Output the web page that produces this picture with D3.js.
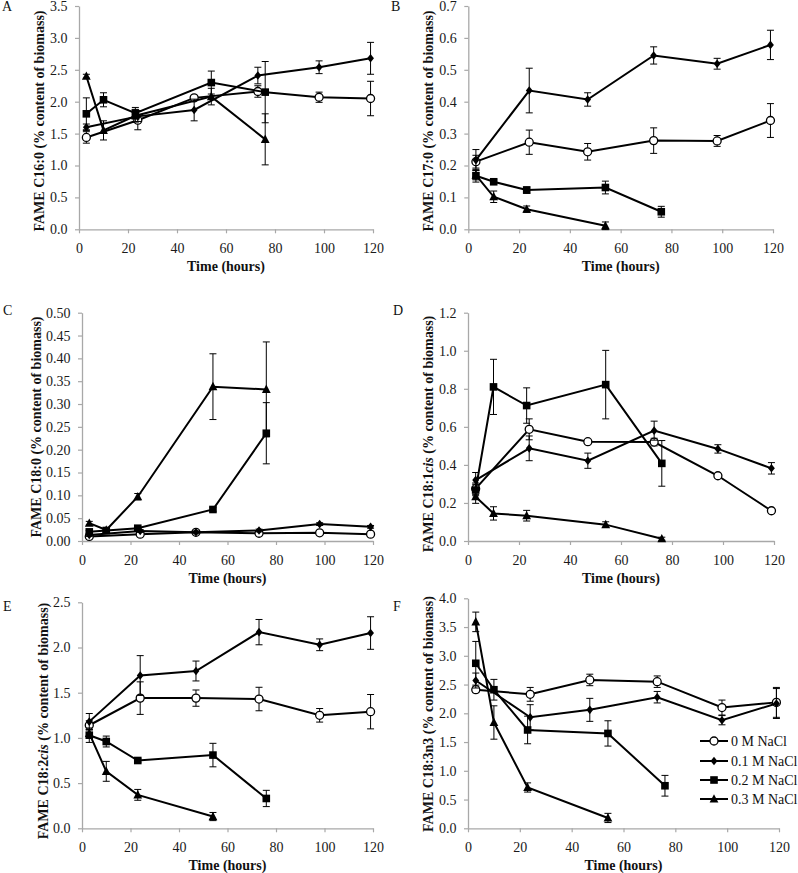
<!DOCTYPE html>
<html><head><meta charset="utf-8">
<script src="https://cdn.jsdelivr.net/npm/d3@7/dist/d3.min.js"></script>
<style>
body{margin:0;background:#fff;}
svg{display:block;}
svg text{font-family:"Liberation Serif","Times New Roman",serif !important;}
</style></head><body>
<svg id="chart" width="798" height="873"></svg>
<script>
// ---------- DATA ----------
const seriesNames = ["0 M NaCl", "0.1 M NaCl", "0.2 M NaCl", "0.3 M NaCl"];
const timesLong = [3, 24, 47, 73, 98, 119];   // 0 M and 0.1 M NaCl
const timesShort = [3, 10, 23, 54, 76];       // 0.2 M and 0.3 M NaCl
const timesShorter = [3, 10, 23, 54];         // 0.3 M NaCl in B, E, F
const xTicks = [0, 20, 40, 60, 80, 100, 120];

// A: C16:0
const pA0 = [1.44, 1.71, 2.06, 2.16, 2.07, 2.05], pA0e = [0.09, 0.15, 0.03, 0.09, 0.08, 0.27];
const pA1 = [1.60, 1.77, 1.87, 2.41, 2.54, 2.68], pA1e = [0.05, 0.08, 0.17, 0.13, 0.10, 0.25];
const pA2 = [1.81, 2.03, 1.82, 2.30, 2.15], pA2e = [0.25, 0.11, 0.09, 0.18, 0.48];
const pA3 = [2.40, 1.55, 1.78, 2.08, 1.41], pA3e = [0.03, 0.15, 0.10, 0.13, 0.40];
// B: C17:0
const pB0 = [0.212, 0.273, 0.243, 0.278, 0.277, 0.341], pB0e = [0.02, 0.038, 0.026, 0.04, 0.017, 0.053];
const pB1 = [0.217, 0.435, 0.407, 0.545, 0.519, 0.578], pB1e = [0.033, 0.07, 0.021, 0.027, 0.017, 0.046];
const pB2 = [0.168, 0.149, 0.123, 0.131, 0.055], pB2e = [0.02, 0.006, 0.01, 0.02, 0.017];
const pB3 = [0.170, 0.102, 0.063, 0.011], pB3e = [0.015, 0.018, 0.01, 0.012];
// C: C18:0
const pC0 = [0.010, 0.015, 0.019, 0.017, 0.018, 0.015], pC0e = [0.002, 0.002, 0.002, 0.002, 0.002, 0.002];
const pC1 = [0.013, 0.022, 0.019, 0.023, 0.037, 0.031], pC1e = [0.003, 0.003, 0.003, 0.003, 0.003, 0.003];
const pC2 = [0.020, 0.023, 0.028, 0.069, 0.236], pC2e = [0.003, 0.003, 0.004, 0.004, 0.067];
const pC3 = [0.039, 0.024, 0.097, 0.338, 0.332], pC3e = [0.004, 0.003, 0.007, 0.072, 0.104];
// D: C18:1cis
const pD0 = [0.275, 0.587, 0.522, 0.520, 0.343, 0.159], pD0e = [0.03, 0.055, 0.005, 0.02, 0.005, 0.005];
const pD1 = [0.32, 0.487, 0.422, 0.58, 0.484, 0.382], pD1e = [0.04, 0.065, 0.04, 0.05, 0.022, 0.03];
const pD2 = [0.268, 0.81, 0.712, 0.822, 0.408], pD2e = [0.03, 0.145, 0.093, 0.18, 0.12];
const pD3 = [0.233, 0.145, 0.133, 0.086, 0.012], pD3e = [0.035, 0.035, 0.028, 0.015, 0.008];
// E: C18:2cis
const pE0 = [1.14, 1.44, 1.44, 1.43, 1.25, 1.29], pE0e = [0.05, 0.18, 0.09, 0.13, 0.075, 0.19];
const pE1 = [1.18, 1.69, 1.74, 2.17, 2.03, 2.16], pE1e = [0.09, 0.22, 0.11, 0.14, 0.065, 0.18];
const pE2 = [1.03, 0.96, 0.75, 0.81, 0.33], pE2e = [0.08, 0.06, 0.02, 0.13, 0.09];
const pE3 = [1.05, 0.63, 0.37, 0.13], pE3e = [0.04, 0.11, 0.06, 0.045];
// F: C18:3n3
const pF0 = [2.41, 2.33, 2.58, 2.55, 2.10, 2.19], pF0e = [0.05, 0.12, 0.10, 0.10, 0.13, 0.26];
const pF1 = [2.57, 1.93, 2.06, 2.28, 1.88, 2.17], pF1e = [0.13, 0.22, 0.20, 0.10, 0.08, 0.26];
const pF2 = [2.87, 2.41, 1.71, 1.65, 0.74], pF2e = [0.38, 0.18, 0.24, 0.22, 0.18];
const pF3 = [3.59, 1.84, 0.71, 0.18], pF3e = [0.17, 0.29, 0.08, 0.08];

// y tick values
const yTicksA = [0, 0.5, 1, 1.5, 2, 2.5, 3, 3.5];
const yTicksB = [0, 0.1, 0.2, 0.3, 0.4, 0.5, 0.6, 0.7];
const yTicksC = [0, 0.05, 0.1, 0.15, 0.2, 0.25, 0.3, 0.35, 0.4, 0.45, 0.5];
const yTicksD = [0, 0.2, 0.4, 0.6, 0.8, 1.0, 1.2];
const yTicksE = [0, 0.5, 1, 1.5, 2, 2.5];
const yTicksF = [0, 0.5, 1, 1.5, 2, 2.5, 3, 3.5, 4];

// ---------- BUILD ----------
function mk(t, v, e) { return t.map((d, i) => ({ t: d, v: v[i], e: e[i] })); }

const panels = [
  { label: "A", fa: "C16:0", italic: "", yTicks: yTicksA, dec: 1,
    box: { l: 79, r: 373, t: 6, b: 229.3 }, lab: [2, 11], ytx: 39, yty: 121,
    series: [mk(timesLong, pA0, pA0e), mk(timesLong, pA1, pA1e), mk(timesShort, pA2, pA2e), mk(timesShort, pA3, pA3e)] },
  { label: "B", fa: "C17:0", italic: "", yTicks: yTicksB, dec: 1,
    box: { l: 468.3, r: 773, t: 6, b: 229.3 }, lab: [391, 11], ytx: 428, yty: 121,
    series: [mk(timesLong, pB0, pB0e), mk(timesLong, pB1, pB1e), mk(timesShort, pB2, pB2e), mk(timesShorter, pB3, pB3e)] },
  { label: "C", fa: "C18:0", italic: "", yTicks: yTicksC, dec: 2,
    box: { l: 82, r: 373, t: 312.7, b: 541 }, lab: [3, 315], ytx: 36, yty: 427,
    series: [mk(timesLong, pC0, pC0e), mk(timesLong, pC1, pC1e), mk(timesShort, pC2, pC2e), mk(timesShort, pC3, pC3e)] },
  { label: "D", fa: "C18:1", italic: "cis", yTicks: yTicksD, dec: 1,
    box: { l: 468, r: 774, t: 312.7, b: 541 }, lab: [393, 315], ytx: 428, yty: 434,
    series: [mk(timesLong, pD0, pD0e), mk(timesLong, pD1, pD1e), mk(timesShort, pD2, pD2e), mk(timesShort, pD3, pD3e)] },
  { label: "E", fa: "C18:2", italic: "cis", yTicks: yTicksE, dec: 1,
    box: { l: 82, r: 373, t: 602.3, b: 828.3 }, lab: [3, 611], ytx: 43, yty: 721,
    series: [mk(timesLong, pE0, pE0e), mk(timesLong, pE1, pE1e), mk(timesShort, pE2, pE2e), mk(timesShorter, pE3, pE3e)] },
  { label: "F", fa: "C18:3n3", italic: "", yTicks: yTicksF, dec: 1,
    box: { l: 468, r: 779, t: 598.3, b: 828.3 }, lab: [393, 611], ytx: 428, yty: 714,
    series: [mk(timesLong, pF0, pF0e), mk(timesLong, pF1, pF1e), mk(timesShort, pF2, pF2e), mk(timesShorter, pF3, pF3e)], legend: true }
];

const svg = d3.select("#chart");
const AXIS_COLOR = "#a8a8a8";
const FONT = "'Liberation Serif','Times New Roman',serif";

function drawMarker(sel, kind) {
  if (kind === 0) {
    sel.append("circle").attr("r", 4).attr("fill", "#fff").attr("stroke", "#000").attr("stroke-width", 1.3);
  } else if (kind === 1) {
    sel.append("path").attr("d", "M0,-4.3L3.4,0L0,4.3L-3.4,0Z").attr("fill", "#000");
  } else if (kind === 2) {
    sel.append("rect").attr("x", -3.8).attr("y", -3.8).attr("width", 7.6).attr("height", 7.6).attr("fill", "#000");
  } else {
    sel.append("path").attr("d", "M0,-4.8L4.4,3.6L-4.4,3.6Z").attr("fill", "#000");
  }
}

panels.forEach(p => {
  const b = p.box;
  const x = d3.scaleLinear().domain([0, 120]).range([b.l, b.r]);
  const yMax = p.yTicks[p.yTicks.length - 1];
  const y = d3.scaleLinear().domain([0, yMax]).range([b.b, b.t]);
  const g = svg.append("g").style("font-family", FONT);

  // axes
  const gx = g.append("g").attr("transform", `translate(0,${b.b})`)
    .call(d3.axisBottom(x).tickValues(xTicks).tickSize(4).tickSizeOuter(0).tickPadding(10));
  const gy = g.append("g").attr("transform", `translate(${b.l},0)`)
    .call(d3.axisLeft(y).tickValues(p.yTicks).tickFormat(d3.format(`.${p.dec}f`)).tickSize(4).tickSizeOuter(0).tickPadding(7.5));
  [gx, gy].forEach(ax => {
    ax.attr("font-family", null).attr("font-size", null);
    ax.select(".domain").attr("stroke", AXIS_COLOR).attr("stroke-width", 1.3);
    ax.selectAll(".tick line").attr("stroke", AXIS_COLOR).attr("stroke-width", 1.2);
    ax.selectAll(".tick text").attr("fill", "#1a1a1a").style("font-size", "14px").style("font-family", FONT);
  });

  // axis titles
  g.append("text").attr("x", (b.l + b.r) / 2).attr("y", b.b + 42)
    .attr("text-anchor", "middle").attr("font-weight", "bold").style("font-size", "14px").attr("fill", "#111")
    .text("Time (hours)");
  const yt = g.append("text").attr("transform", `translate(${p.ytx},${p.yty}) rotate(-90)`)
    .attr("dy", "0.35em").attr("text-anchor", "middle").attr("font-weight", "bold").style("font-size", "14px").attr("fill", "#111");
  yt.append("tspan").text("FAME " + p.fa);
  if (p.italic) yt.append("tspan").attr("font-style", "italic").text(p.italic);
  yt.append("tspan").text(" (% content of biomass)");

  // panel label
  g.append("text").attr("x", p.lab[0]).attr("y", p.lab[1]).style("font-size", "14px").attr("fill", "#111").text(p.label);

  // series
  const line = d3.line().x(d => x(d.t)).y(d => y(d.v));
  p.series.forEach((s, k) => {
    const sg = g.append("g");
    const eb = sg.selectAll(".eb").data(s).join("g");
    eb.append("line").attr("x1", d => x(d.t)).attr("x2", d => x(d.t))
      .attr("y1", d => y(d.v - d.e)).attr("y2", d => y(d.v + d.e)).attr("stroke", "#000").attr("stroke-width", 1);
    eb.append("line").attr("x1", d => x(d.t) - 3.5).attr("x2", d => x(d.t) + 3.5)
      .attr("y1", d => y(d.v + d.e)).attr("y2", d => y(d.v + d.e)).attr("stroke", "#000").attr("stroke-width", 1);
    eb.append("line").attr("x1", d => x(d.t) - 3.5).attr("x2", d => x(d.t) + 3.5)
      .attr("y1", d => y(d.v - d.e)).attr("y2", d => y(d.v - d.e)).attr("stroke", "#000").attr("stroke-width", 1);
    sg.append("path").datum(s).attr("d", line).attr("fill", "none").attr("stroke", "#000").attr("stroke-width", 2);
    sg.selectAll(".mk").data(s).join("g").attr("transform", d => `translate(${x(d.t)},${y(d.v)})`)
      .each(function () { drawMarker(d3.select(this), k); });
  });

  // legend
  if (p.legend) {
    const rows = [741, 761, 780, 799];
    seriesNames.forEach((name, k) => {
      const lg = g.append("g").attr("transform", `translate(0,${rows[k]})`);
      lg.append("line").attr("x1", 700).attr("x2", 728).attr("y1", 0).attr("y2", 0).attr("stroke", "#000").attr("stroke-width", 2);
      drawMarker(lg.append("g").attr("transform", "translate(714,0)"), k);
      lg.append("text").attr("x", 731).attr("y", 0).attr("dy", "0.35em").style("font-size", "14px").attr("fill", "#111").text(name);
    });
  }
});
</script>
</body></html>
